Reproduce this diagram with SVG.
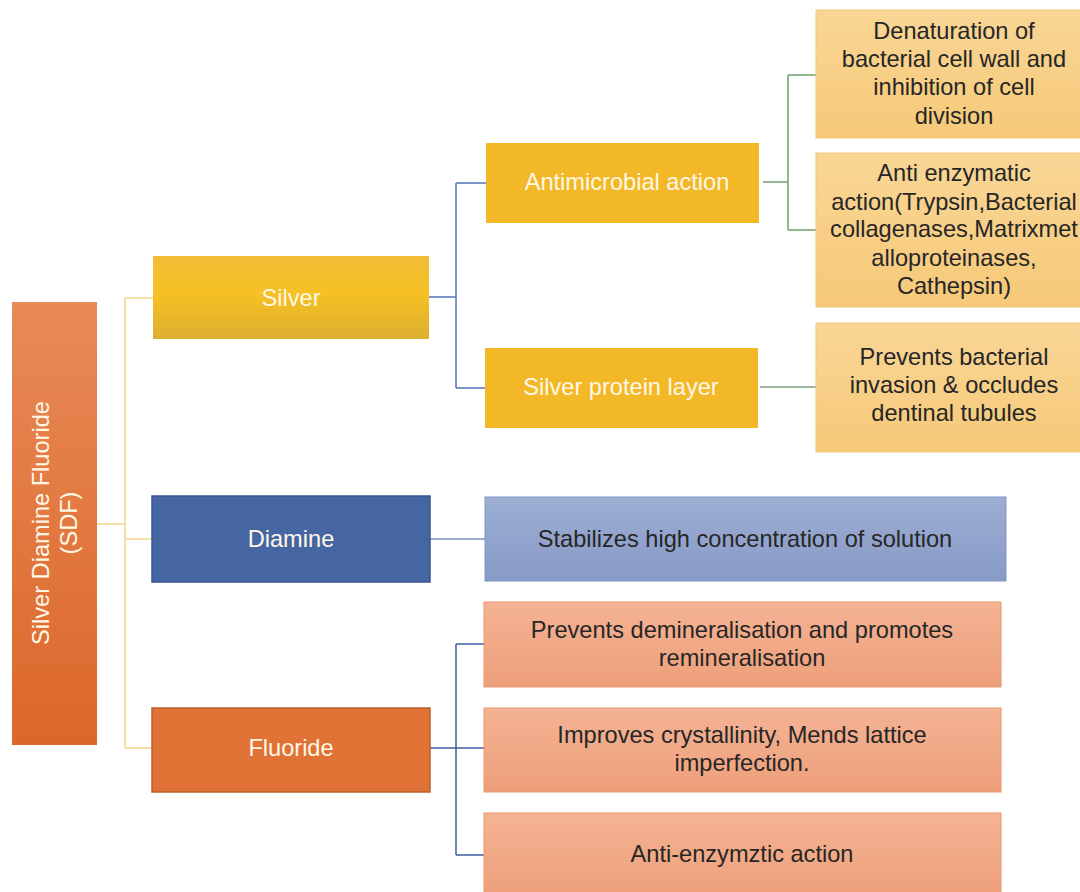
<svg xmlns="http://www.w3.org/2000/svg" width="1080" height="892" viewBox="0 0 1080 892">
<defs>
<linearGradient id="gSdf" x1="0" y1="0" x2="0" y2="1"><stop offset="0" stop-color="#E88A57"/><stop offset="1" stop-color="#DC672A"/></linearGradient>
<linearGradient id="gSilver" x1="0" y1="0" x2="0" y2="1"><stop offset="0" stop-color="#F2BD38"/><stop offset="0.45" stop-color="#F5C124"/><stop offset="1" stop-color="#DDAE30"/></linearGradient>
<linearGradient id="gLight" x1="0" y1="0" x2="0" y2="1"><stop offset="0" stop-color="#F9D696"/><stop offset="1" stop-color="#F6C978"/></linearGradient>
<linearGradient id="gBlue" x1="0" y1="0" x2="0" y2="1"><stop offset="0" stop-color="#9DAED3"/><stop offset="1" stop-color="#879AC7"/></linearGradient>
<linearGradient id="gSalmon" x1="0" y1="0" x2="0" y2="1"><stop offset="0" stop-color="#F4B394"/><stop offset="1" stop-color="#EE9F7A"/></linearGradient>
</defs>
<style>
.t{font-family:"Liberation Sans",Arial,sans-serif;font-size:23.6px;text-anchor:middle}
.w{fill:#FFF7E6}
.d{fill:#262626}
.c{fill:none;stroke-width:1.5}
</style>
<rect width="1080" height="892" fill="#FFFFFF"/>
<g id="connectors">
<path class="c" stroke="#F3D68C" d="M97 524H125M125 298V748M125 298H153M125 539H152M125 748H152"/>
<path class="c" stroke="#5573B8" d="M429 297H456M456 183V388M456 183H486M456 388H485"/>
<path class="c" stroke="#6FA06A" d="M763 182H788M788 75V230M788 75H816M788 230H816"/>
<path class="c" stroke="#7E9E7A" d="M760 387H816"/>
<path class="c" stroke="#7A8FC0" d="M430 539H485"/>
<path class="c" stroke="#3E5FA0" d="M430 748H456M456 644V855M456 644H484M456 748H484M456 855H484"/>
</g>
<g id="sdf">
<rect x="12" y="302" width="85" height="443" fill="url(#gSdf)"/>
<text class="t w" transform="translate(55 523) rotate(-90)"><tspan x="0" y="-6">Silver Diamine Fluoride</tspan><tspan x="0" y="22">(SDF)</tspan></text>
</g>
<g id="silver">
<rect x="153" y="256" width="276" height="83" fill="url(#gSilver)"/>
<text class="t w" x="291" y="306">Silver</text>
</g>
<g id="antimicrobial">
<rect x="486" y="143" width="273" height="80" fill="#F3B827"/>
<text class="t w" x="627" y="190">Antimicrobial action</text>
</g>
<g id="silver-protein">
<rect x="485" y="348" width="273" height="80" fill="#F3B827"/>
<text class="t w" x="621" y="395">Silver protein layer</text>
</g>
<g id="denaturation">
<rect x="816" y="10" width="280" height="128" fill="url(#gLight)" stroke="#F2C77E"/>
<text class="t d"><tspan x="954" y="39">Denaturation of</tspan><tspan x="954" y="67">bacterial cell wall and</tspan><tspan x="954" y="95">inhibition of cell</tspan><tspan x="954" y="124">division</tspan></text>
</g>
<g id="anti-enzymatic">
<rect x="816" y="153" width="280" height="154" fill="url(#gLight)" stroke="#F2C77E"/>
<text class="t d"><tspan x="954" y="181">Anti enzymatic</tspan><tspan x="954" y="210">action(Trypsin,Bacterial</tspan><tspan x="954" y="237">collagenases,Matrixmet</tspan><tspan x="954" y="266">alloproteinases,</tspan><tspan x="954" y="294">Cathepsin)</tspan></text>
</g>
<g id="prevents-bacterial">
<rect x="816" y="323" width="280" height="129" fill="url(#gLight)" stroke="#F2C77E"/>
<text class="t d"><tspan x="954" y="365">Prevents bacterial</tspan><tspan x="954" y="393">invasion &amp; occludes</tspan><tspan x="954" y="421">dentinal tubules</tspan></text>
</g>
<g id="diamine">
<rect x="152" y="496" width="278" height="86" fill="#4566A2" stroke="#3A5690" stroke-width="1.5"/>
<text class="t w" x="291" y="547">Diamine</text>
</g>
<g id="stabilizes">
<rect x="485" y="497" width="521" height="84" fill="url(#gBlue)" stroke="#8195C4"/>
<text class="t d" x="745" y="547">Stabilizes high concentration of solution</text>
</g>
<g id="fluoride">
<rect x="152" y="708" width="278" height="84" fill="#E07235" stroke="#B9602E" stroke-width="1.5"/>
<text class="t w" x="291" y="756">Fluoride</text>
</g>
<g id="prevents-demin">
<rect x="484" y="602" width="517" height="85" fill="url(#gSalmon)" stroke="#E9976F"/>
<text class="t d"><tspan x="742" y="638">Prevents demineralisation and promotes</tspan><tspan x="742" y="666">remineralisation</tspan></text>
</g>
<g id="improves">
<rect x="484" y="708" width="517" height="84" fill="url(#gSalmon)" stroke="#E9976F"/>
<text class="t d"><tspan x="742" y="743">Improves crystallinity, Mends lattice</tspan><tspan x="742" y="771">imperfection.</tspan></text>
</g>
<g id="anti-enzymztic">
<rect x="484" y="813" width="517" height="84" fill="url(#gSalmon)" stroke="#E9976F"/>
<text class="t d" x="742" y="862">Anti-enzymztic action</text>
</g>
</svg>
